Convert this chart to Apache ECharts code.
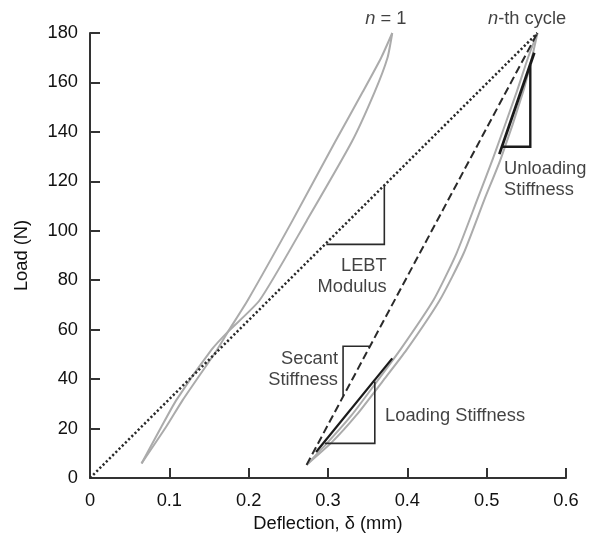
<!DOCTYPE html>
<html>
<head>
<meta charset="utf-8">
<script src="https://cdn.jsdelivr.net/npm/echarts@6/dist/echarts.min.js"></script>
<style>
html,body{margin:0;padding:0;background:#fff;}
#chart{width:590px;height:538px;}
</style>
</head>
<body>
<div id="chart"></div>
<script>
// ---- data (deflection mm, load N) ----
const n1CurveA = [[0.065,5.9],[0.090,20.7],[0.109,31.6],[0.153,51.8],[0.174,59.2],[0.214,72],[0.273,104],[0.330,136],[0.359,156.3],[0.375,170],[0.381,180]];
const n1CurveB = [[0.065,5.9],[0.096,20.7],[0.117,31.6],[0.160,51.8],[0.174,59.2],[0.199,72],[0.255,104],[0.309,136],[0.344,156.3],[0.367,170],[0.381,180]];
const nthUpper = [[0.273,5.3],[0.300,14.5],[0.330,25.5],[0.363,39.6],[0.391,51.8],[0.433,72],[0.462,90.9],[0.488,112.5],[0.508,129.3],[0.538,156.3],[0.552,169.9],[0.564,180]];
const nthLower = [[0.273,5.3],[0.305,14.5],[0.336,25.5],[0.370,39.6],[0.399,51.8],[0.441,72],[0.471,90.9],[0.497,112.5],[0.518,129.3],[0.546,156.3],[0.557,169.9],[0.564,180]];
const lebtLine = [[0,0],[0.564,180]];
const secantLine = [[0.273,5.3],[0.564,180]];
const loadingLine = [[0.285,10.5],[0.381,48.4]];
const unloadingLine = [[0.516,131],[0.560,172]];
const lebtTri = [[0.298,94.5],[0.371,94.5],[0.371,118.2]];
const secantTri = [[0.352,53.3],[0.319,53.3],[0.319,33.3]];
const loadingTri = [[0.296,14],[0.359,14],[0.359,39]];
const unloadingTri = [[0.519,134],[0.555,134],[0.555,167]];
const xAxisRange = [0, 0.6, 0.1];
const yAxisRange = [0, 180, 20];
const annotations = [
  {text:'{i|n} = 1', pos:[0.373,185.7], align:'center'},
  {text:'{i|n}-th cycle', pos:[0.551,185.7], align:'center'},
  {text:'Unloading\nStiffness', pos:[0.522,120.8], align:'left'},
  {text:'LEBT\nModulus', pos:[0.374,81.7], align:'right'},
  {text:'Secant\nStiffness', pos:[0.3126,44.1], align:'right'},
  {text:'Loading Stiffness', pos:[0.372,25.1], align:'left'}
];

const FONT = 'Liberation Sans, Arial, sans-serif';
const TXT = '#111';
const FS = 18.3;

function lineSeries(data, color, width, type, z){
  return {type:'line', data:data, showSymbol:false, symbol:'none', silent:true, z:z||2,
    smooth: false, lineStyle:{color:color, width:width, type:type||'solid', cap:'butt', join:'miter'}};
}
function curve(data){
  return Object.assign(lineSeries(data,'#ababab',2,'solid',1),{smooth:0.2});
}

const series = [
  curve(n1CurveA), curve(n1CurveB), curve(nthUpper), curve(nthLower),
  lineSeries(lebtLine,'#2a2a2a',2.5,[2.2,2.3],3),
  lineSeries(secantLine,'#2a2a2a',2,[8,4],3),
  lineSeries(loadingLine,'#1a1a1a',2.2,'solid',3),
  lineSeries(unloadingLine,'#1a1a1a',2.8,'solid',3),
  lineSeries(lebtTri,'#2a2a2a',1.6,'solid',3),
  lineSeries(secantTri,'#2a2a2a',1.6,'solid',3),
  lineSeries(loadingTri,'#2a2a2a',1.6,'solid',3),
  lineSeries(unloadingTri,'#1a1a1a',2.4,'solid',3),
  {type:'scatter', symbolSize:0, silent:true, clip:false, z:5,
    data: annotations.map(a => ({value:a.pos, label:{show:true, formatter:a.text, position:'inside',
      align:a.align, verticalAlign:'middle', color:TXT, fontSize:FS, fontFamily:FONT, lineHeight:21,
      rich:{i:{fontStyle:'italic', fontSize:FS, fontFamily:FONT, color:TXT}}}}))}
];

const chart = echarts.init(document.getElementById('chart'), null, {renderer:'canvas'});
chart.setOption({
  animation:false,
  backgroundColor:'#fff',
  grid:{left:90, right:24, top:33, bottom:60, containLabel:false},
  xAxis:{type:'value', min:xAxisRange[0], max:xAxisRange[1], interval:xAxisRange[2],
    name:'Deflection, δ (mm)', nameLocation:'middle', nameGap:37,
    nameTextStyle:{fontSize:FS, fontFamily:FONT, color:TXT},
    axisLine:{show:true, onZero:false, lineStyle:{color:'#333', width:2}},
    axisTick:{show:true, inside:true, length:10, lineStyle:{color:'#333', width:2}},
    axisLabel:{margin:14, fontSize:FS, fontFamily:FONT, color:TXT},
    splitLine:{show:false}},
  yAxis:{type:'value', min:yAxisRange[0], max:yAxisRange[1], interval:yAxisRange[2],
    name:'Load (N)', nameLocation:'middle', nameGap:59,
    nameTextStyle:{fontSize:FS, fontFamily:FONT, color:TXT},
    axisLine:{show:true, onZero:false, lineStyle:{color:'#333', width:2}},
    axisTick:{show:true, inside:true, length:10, lineStyle:{color:'#333', width:2}},
    axisLabel:{margin:12, fontSize:FS, fontFamily:FONT, color:TXT},
    splitLine:{show:false}},
  series: series
});
</script>
</body>
</html>
